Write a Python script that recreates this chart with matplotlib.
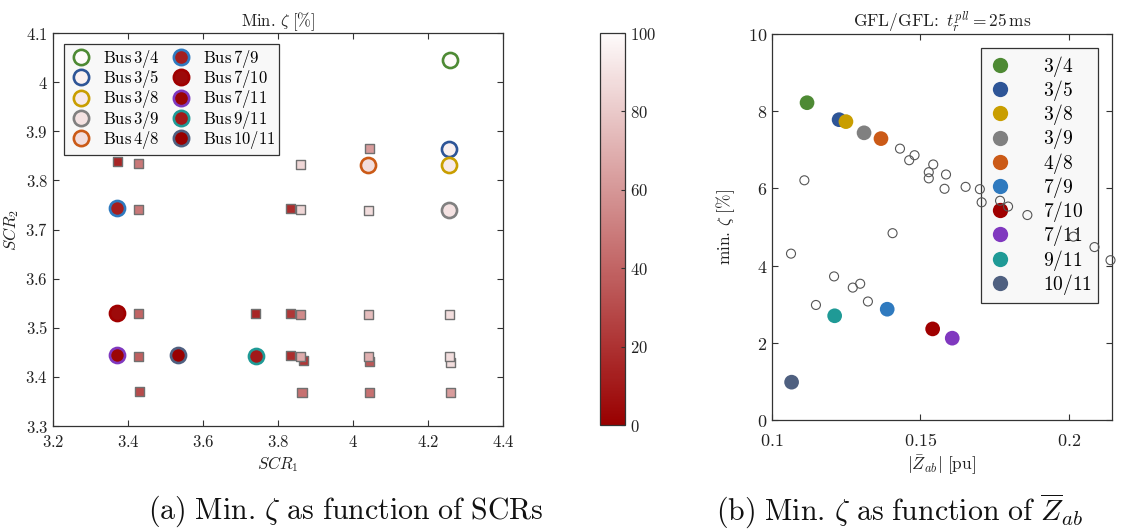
import matplotlib
matplotlib.use("Agg")
import matplotlib.pyplot as plt
from matplotlib.colors import LinearSegmentedColormap, Normalize
from matplotlib.lines import Line2D
from matplotlib.ticker import FixedLocator, FuncFormatter

plt.rcParams['mathtext.fontset'] = 'cm'
plt.rcParams['font.family'] = ['DejaVu Serif']

# ---- bus pairs ----
bus_labels = ['3/4', '3/5', '3/8', '3/9', '4/8', '7/9', '7/10', '7/11', '9/11', '10/11']
bus_colors = ['#4e8a34', '#2e5597', '#c99e00', '#808080', '#cb5a17',
              '#2f7abf', '#a00000', '#8038bf', '#1f9a96', '#4f6080']
scr1_bus = [4.258, 4.256, 4.256, 4.256, 4.041, 3.371, 3.371, 3.371, 3.742, 3.533]
scr2_bus = [4.045, 3.863, 3.832, 3.740, 3.832, 3.744, 3.531, 3.445, 3.443, 3.445]
zeta_scale_bus = [100, 96, 93, 90, 88, 12, 4, 2, 10, 0]
zab_bus = [0.1118, 0.1226, 0.1249, 0.1310, 0.1367, 0.1388, 0.1541, 0.1607, 0.1211, 0.1066]
zeta_bus = [8.22, 7.78, 7.73, 7.44, 7.29, 2.87, 2.36, 2.12, 2.70, 0.98]

# ---- remaining combinations (panel a) ----
scr1_other = [3.431, 3.864, 4.044, 4.259, 3.867, 4.045, 4.260,
              3.429, 3.834, 3.861, 4.041, 4.257,
              3.429, 3.741, 3.834, 3.861, 4.041, 4.257,
              3.429, 3.834, 3.861, 4.041,
              3.371, 3.429, 3.861, 4.045]
scr2_other = [3.371, 3.369, 3.369, 3.369, 3.433, 3.431, 3.430,
              3.442, 3.443, 3.441, 3.441, 3.442,
              3.528, 3.529, 3.528, 3.526, 3.526, 3.526,
              3.740, 3.742, 3.740, 3.739,
              3.838, 3.834, 3.833, 3.865]
zeta_scale_other = [30, 45, 45, 62, 22, 35, 88,
                    38, 18, 68, 70, 88,
                    40, 15, 22, 55, 75, 88,
                    48, 18, 85, 88,
                    15, 48, 85, 62]

# ---- remaining combinations (panel b) ----
zab_other = [0.1431, 0.1462, 0.1480, 0.1543, 0.1528, 0.1528, 0.1586, 0.1581,
             0.1652, 0.1700, 0.1706, 0.1768, 0.1795, 0.1860, 0.1109,
             0.2015, 0.2086, 0.2140, 0.1064, 0.1406, 0.1209, 0.1272,
             0.1297, 0.1148, 0.1323]
zeta_other = [7.03, 6.73, 6.86, 6.62, 6.42, 6.26, 6.36, 5.99,
              6.04, 5.98, 5.64, 5.68, 5.53, 5.31, 6.21,
              4.75, 4.48, 4.14, 4.31, 4.84, 3.72, 3.43,
              3.53, 2.98, 3.07]

cbar_ticks = [0, 20, 40, 60, 80, 100]
scr1_ticks = [3.2, 3.4, 3.6, 3.8, 4.0, 4.2, 4.4]
scr2_ticks = [3.3, 3.4, 3.5, 3.6, 3.7, 3.8, 3.9, 4.0, 4.1]
zab_ticks = [0.1, 0.15, 0.2]
zeta_ticks = [0, 2, 4, 6, 8, 10]

cmap = LinearSegmentedColormap.from_list('reds_white', ['#990000', '#fefbfb'])
norm = Normalize(0, 100)

W, H = 1122, 529
fig = plt.figure(figsize=(W / 100, H / 100), dpi=100)

def frac(x0, y0, x1, y1):
    return [x0 / W, 1 - y1 / H, (x1 - x0) / W, (y1 - y0) / H]

axc = '#333333'


def fmt_num(v, pos=None):
    s = ('%.2f' % v).rstrip('0').rstrip('.')
    return r'$%s$' % s


def style_axes(ax, fs):
    for sp in ax.spines.values():
        sp.set_color(axc)
        sp.set_linewidth(0.9)
    ax.tick_params(direction='in', top=True, right=True, length=4,
                   width=0.8, color=axc, labelsize=fs, labelcolor='#222222')
    ax.xaxis.set_major_formatter(FuncFormatter(fmt_num))
    ax.yaxis.set_major_formatter(FuncFormatter(fmt_num))


# ================= panel (a) =================
ax1 = fig.add_axes(frac(53, 33, 503, 426))
ax1.scatter(scr1_other, scr2_other, s=42, marker='s', c=zeta_scale_other,
            cmap=cmap, norm=norm, edgecolors='#707070', linewidths=1.0, zorder=3)
for x, y, z, col, lab in zip(scr1_bus, scr2_bus, zeta_scale_bus, bus_colors, bus_labels):
    ax1.scatter([x], [y], s=118, marker='o', color=cmap(norm(z)),
                edgecolors=col, linewidths=1.9, zorder=4)
ax1.set_xlim(3.2, 4.4)
ax1.set_ylim(3.3, 4.1)
ax1.xaxis.set_major_locator(FixedLocator(scr1_ticks))
ax1.yaxis.set_major_locator(FixedLocator(scr2_ticks))
style_axes(ax1, 12)
ax1.tick_params(axis='x', pad=6)
ax1.set_xlabel(r'$SCR_1$', fontsize=12, color='#222222', labelpad=2)
ax1.set_ylabel(r'$SCR_2$', fontsize=12, color='#222222', labelpad=3)
ax1.set_title(r'$\mathrm{Min.}\,\zeta\ [\%]$', fontsize=12, color='#222222', pad=5)

handles1 = [Line2D([], [], marker='o', linestyle='none', markersize=11,
                   markerfacecolor=cmap(norm(z)), markeredgecolor=col,
                   markeredgewidth=1.9)
            for z, col in zip(zeta_scale_bus, bus_colors)]
labels1 = [r'$\mathrm{Bus}\,%s$' % b for b in bus_labels]
leg1 = ax1.legend(handles1, labels1, ncol=2, loc='upper left',
                  bbox_to_anchor=(0.0244, 0.972), borderaxespad=0,
                  fontsize=12, frameon=True, fancybox=False,
                  handletextpad=0.5, columnspacing=0.5, labelspacing=-0.1,
                  borderpad=0.22, handlelength=1.6)
leg1.get_frame().set_facecolor('#f8f8f8')
leg1.get_frame().set_edgecolor('#333333')
leg1.get_frame().set_linewidth(0.9)
leg1.get_frame().set_alpha(1)

# colorbar
cax = fig.add_axes(frac(600, 33, 625, 425))
sm = matplotlib.cm.ScalarMappable(norm=norm, cmap=cmap)
cb = fig.colorbar(sm, cax=cax, ticks=cbar_ticks)
cb.outline.set_edgecolor(axc)
cb.outline.set_linewidth(0.9)
cax.tick_params(direction='in', length=3, width=0.8, color=axc,
                labelsize=12, labelcolor='#222222')
cax.yaxis.set_major_formatter(FuncFormatter(fmt_num))

# ================= panel (b) =================
ax2 = fig.add_axes(frac(772, 34, 1112, 420))
for x, y, col in zip(zab_bus, zeta_bus, bus_colors):
    ax2.scatter([x], [y], s=112, marker='o', color=col, edgecolors='none', zorder=3)
ax2.scatter(zab_other, zeta_other, s=42, marker='o', facecolors='none',
            edgecolors='#555555', linewidths=0.8, zorder=7, clip_on=False)
ax2.set_xlim(0.1, 0.2145)
ax2.set_ylim(0, 10)
ax2.xaxis.set_major_locator(FixedLocator(zab_ticks))
ax2.yaxis.set_major_locator(FixedLocator(zeta_ticks))
style_axes(ax2, 13)
ax2.tick_params(axis='x', pad=9)
ax2.set_xlabel(r'$|\bar{Z}_{ab}|\ [\mathrm{pu}]$', fontsize=12.5, color='#222222', labelpad=2)
ax2.set_ylabel(r'$\mathrm{min.}\,\zeta\ [\%]$', fontsize=12.5, color='#222222', labelpad=8)
ax2.set_title(r'$\mathrm{GFL/GFL}\!:\ t_r^{pll} = 25\,\mathrm{ms}$', fontsize=12.5,
              color='#222222', pad=5)

handles2 = [Line2D([], [], marker='o', linestyle='none', markersize=11,
                   markerfacecolor=col, markeredgecolor='none')
            for col in bus_colors]
labels2 = [r'$%s$' % b for b in bus_labels]
leg2 = ax2.legend(handles2, labels2, loc='upper right',
                  bbox_to_anchor=(0.959, 0.964), borderaxespad=0,
                  fontsize=14, frameon=True, fancybox=False,
                  handletextpad=1.5, labelspacing=-0.04, borderpad=0.3,
                  handlelength=1.4)
leg2.set_zorder(5)
leg2.get_frame().set_facecolor('#f8f8f8')
leg2.get_frame().set_edgecolor('#333333')
leg2.get_frame().set_linewidth(0.9)
leg2.get_frame().set_alpha(1)

# captions
fig.text(346 / W, 1 - 511 / H,
         r'$\mathrm{(a)\ Min.}\,\zeta\ \mathrm{as\ function\ of\ SCRs}$',
         ha='center', va='center', fontsize=21.5, color='#111111')
fig.text(900 / W, 1 - 511 / H,
         r'$\mathrm{(b)\ Min.}\,\zeta\ \mathrm{as\ function\ of}\ \overline{Z}_{ab}$',
         ha='center', va='center', fontsize=21.5, color='#111111')

fig.savefig('out.png', dpi=100, facecolor='white')
